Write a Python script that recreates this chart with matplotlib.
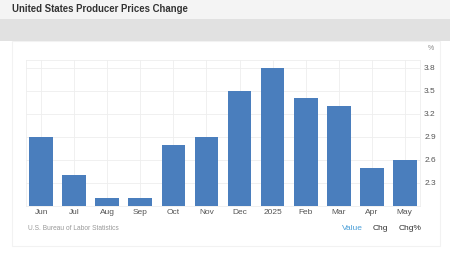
import numpy as np
import matplotlib
matplotlib.use("Agg")
import matplotlib.pyplot as plt
from matplotlib.patches import Rectangle

plt.rcParams['font.family'] = ['Liberation Sans', 'DejaVu Sans']

# data
months = ["Jun", "Jul", "Aug", "Sep", "Oct", "Nov", "Dec", "2025", "Feb", "Mar", "Apr", "May"]
values = [2.9, 2.4, 2.1, 2.1, 2.8, 2.9, 3.5, 3.8, 3.4, 3.3, 2.5, 2.6]
yticks = [2.3, 2.6, 2.9, 3.2, 3.5, 3.8]
title = "United States Producer Prices Change"
source = "U.S. Bureau of Labor Statistics"

W, H = 450, 254
fig = plt.figure(figsize=(W / 100, H / 100), dpi=100)
fig.patch.set_facecolor("white")

def px(x, y, w, h):
    # pixel box (top-left origin) -> figure fraction
    return [x / W, 1 - (y + h) / H, w / W, h / H]

# header bands
bg = fig.add_axes([0, 0, 1, 1], zorder=0)
bg.set_xlim(0, W)
bg.set_ylim(H, 0)
bg.axis("off")
bg.add_patch(Rectangle((0, 0), W, 19, color="#f4f4f4", lw=0))
bg.add_patch(Rectangle((0, 19), W, 22, color="#e1e1e1", lw=0))
bg.add_patch(Rectangle((12, 41), 428, 205, fill=False, ec="#f2f2f2", lw=0.8))
bg.text(12, 9.5, title, fontsize=6.9, fontweight="bold", color="#333333", va="center", ha="left")
bg.text(428, 48, "%", fontsize=5, color="#888888", va="center", ha="left")
bg.text(28, 229, source, fontsize=4.8, color="#999999", va="center", ha="left")
bg.text(342, 229, "Value", fontsize=6, color="#4a9fd8", va="center", ha="left")
bg.text(373, 229, "Chg", fontsize=6, color="#333333", va="center", ha="left")
bg.text(399, 229, "Chg%", fontsize=6, color="#333333", va="center", ha="left")

ax = fig.add_axes(px(26, 60, 394, 146), zorder=1)
ax.set_facecolor("none")
x = np.arange(len(months))
ax.bar(x, np.array(values) - 2.0, bottom=2.0, width=0.72, color="#4a7ebd", zorder=2)
ax.set_xlim(-0.46, len(months) - 0.54)
ax.set_ylim(2.0, 3.9)
ax.set_xticks(x)
ax.set_xticklabels(months)
ax.set_yticks(yticks)
ax.set_yticklabels([f"{v:.1f}" for v in yticks])
ax.yaxis.tick_right()
ax.tick_params(axis="both", length=0, labelsize=6, colors="#555555")
ax.tick_params(axis="x", pad=2.5)
ax.tick_params(axis="y", pad=3)
ax.grid(True, color="#eeeeee", lw=0.6, zorder=0)
for s in ax.spines.values():
    s.set_color("#eeeeee")
    s.set_linewidth(0.6)

fig.savefig("out.png", dpi=100)
